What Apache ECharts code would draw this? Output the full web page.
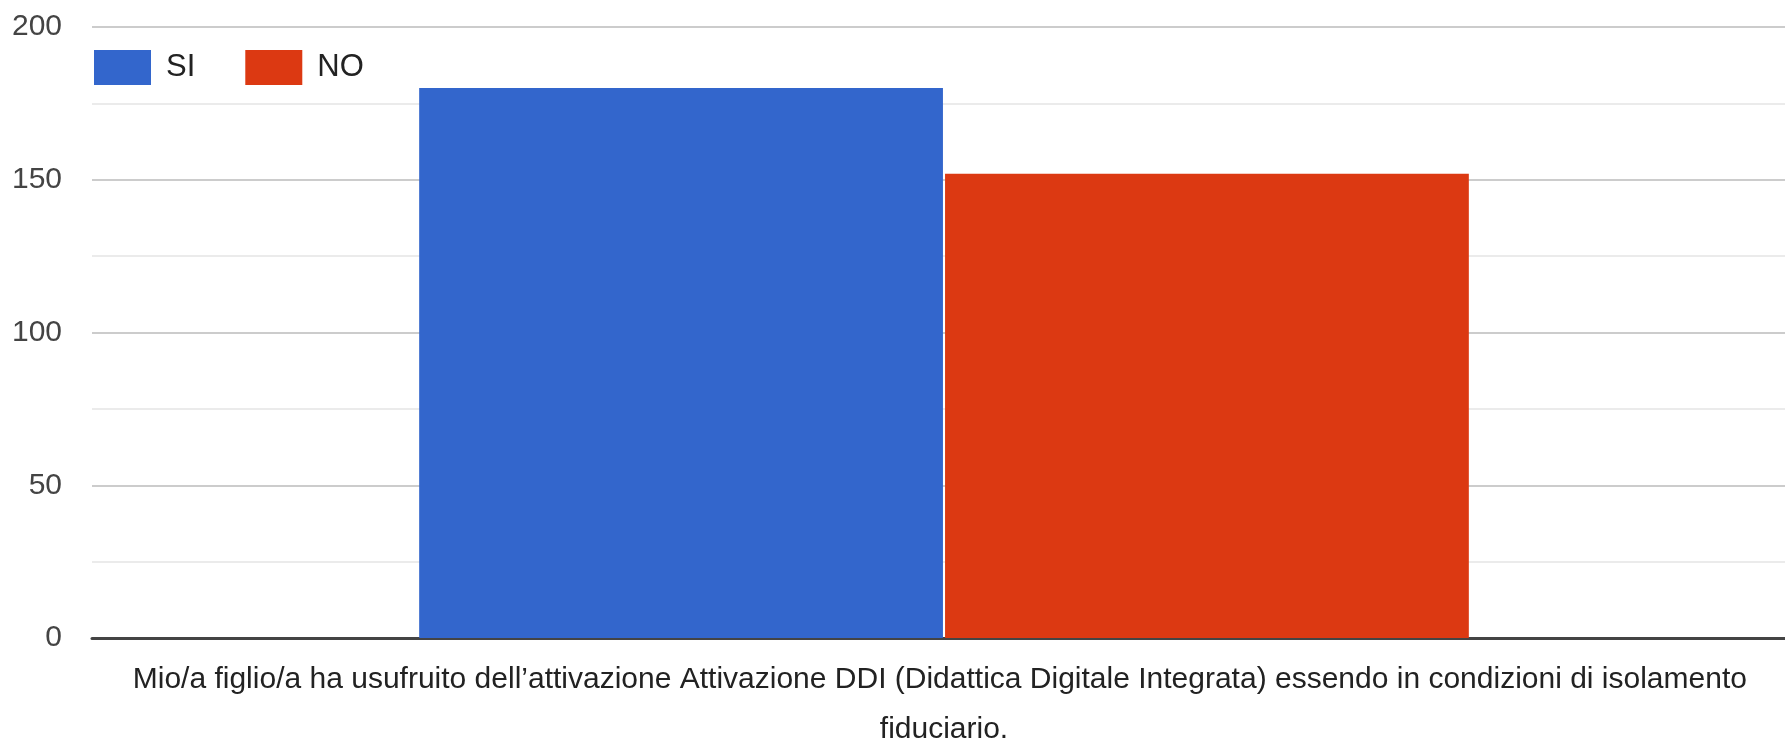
<!DOCTYPE html>
<html>
<head>
<meta charset="utf-8">
<title>Attivazione DDI</title>
<script src="https://cdn.jsdelivr.net/npm/echarts@6/dist/echarts.min.js"></script>
<style>
  html, body { margin: 0; padding: 0; background: #ffffff; }
  #chart { width: 1785px; height: 749px; }
</style>
</head>
<body>
<div id="chart"></div>
<script>
// Survey question and answer counts
const categories = ['Mio/a figlio/a ha usufruito dell\u2019attivazione Attivazione DDI (Didattica Digitale Integrata) essendo in condizioni di isolamento fiduciario.'];
const seriesNames = ['SI', 'NO'];
const siValues = [180];
const noValues = [152];

const FONT = '"Liberation Sans", Arial, sans-serif';
const TEXT_COLOR = '#444444';

const chart = echarts.init(document.getElementById('chart'), null, { renderer: 'canvas' });

chart.setOption({
  animation: false,
  backgroundColor: '#ffffff',
  color: ['#3366cc', '#dc3912'],
  legend: {
    data: seriesNames,
    left: 89,
    top: 45,
    icon: 'rect',
    itemWidth: 57,
    itemHeight: 35,
    itemGap: 50,
    textStyle: {
      fontFamily: FONT,
      fontSize: 31,
      color: '#222222',
      padding: [0, 0, 0, 10]
    }
  },
  grid: {
    left: 92,
    right: -11,
    top: 27,
    bottom: 111,
    containLabel: false,
    outerBoundsMode: 'none'
  },
  xAxis: {
    type: 'category',
    data: categories,
    axisLine: { show: true, lineStyle: { color: '#444444', width: 3 } },
    axisTick: { show: false },
    splitLine: { show: false },
    axisLabel: {
      interval: 0,
      margin: 17,
      width: 1690,
      overflow: 'break',
      lineHeight: 50,
      fontFamily: FONT,
      fontSize: 30,
      color: '#222222'
    }
  },
  yAxis: {
    type: 'value',
    min: 0,
    max: 200,
    interval: 50,
    axisLine: { show: false },
    axisTick: { show: false },
    axisLabel: {
      margin: 30,
      fontFamily: FONT,
      fontSize: 30,
      color: TEXT_COLOR
    },
    splitLine: { show: true, lineStyle: { color: '#cccccc', width: 2 } },
    minorTick: { show: false, splitNumber: 2 },
    minorSplitLine: { show: true, lineStyle: { color: '#ebebeb', width: 2 } }
  },
  series: [
    {
      name: seriesNames[0],
      type: 'bar',
      data: siValues,
      barCategoryGap: '38.4%',
      barGap: '0.4%'
    },
    {
      name: seriesNames[1],
      type: 'bar',
      data: noValues,
      barCategoryGap: '38.4%',
      barGap: '0.4%'
    }
  ]
});
</script>
</body>
</html>
